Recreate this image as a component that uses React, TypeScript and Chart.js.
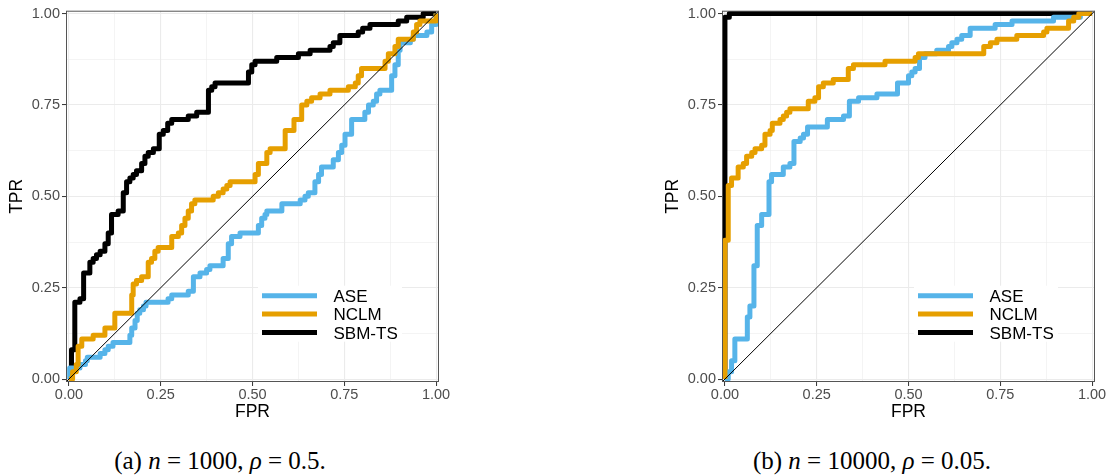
import React, { useEffect, useRef } from 'react';
import { Chart, registerables } from 'chart.js';

Chart.register(...registerables);

// ---------- data ----------
const TICK_VALUES = [0, 0.125, 0.25, 0.375, 0.5, 0.625, 0.75, 0.875, 1];
const TICK_LABELS = ['0.00', '0.25', '0.50', '0.75', '1.00'];
const SERIES = ['ASE', 'NCLM', 'SBM-TS'];
const COLORS = ['#56B4E9', '#E69F00', '#000000'];
const DIAG = [-0.02, 1.02];

// panel (a)
const A_ASE_FPR = [0, 0.002, 0.03, 0.045, 0.05, 0.085, 0.098, 0.107, 0.12, 0.166, 0.171, 0.18, 0.186, 0.193, 0.203, 0.21, 0.27, 0.28, 0.325, 0.339, 0.357, 0.375, 0.384, 0.42, 0.434, 0.443, 0.466, 0.516, 0.525, 0.534, 0.539, 0.58, 0.63, 0.643, 0.652, 0.67, 0.68, 0.688, 0.72, 0.734, 0.743, 0.752, 0.77, 0.806, 0.816, 0.829, 0.838, 0.847, 0.879, 0.888, 0.897, 0.902, 0.93, 0.938, 0.975, 0.988, 1.0, 1.0];
const A_ASE_TPR = [0, 0.03, 0.04, 0.05, 0.06, 0.07, 0.08, 0.09, 0.10, 0.12, 0.14, 0.16, 0.18, 0.19, 0.20, 0.21, 0.22, 0.23, 0.24, 0.28, 0.29, 0.30, 0.31, 0.33, 0.37, 0.39, 0.40, 0.42, 0.44, 0.45, 0.46, 0.48, 0.49, 0.50, 0.51, 0.54, 0.56, 0.58, 0.60, 0.62, 0.64, 0.67, 0.71, 0.73, 0.75, 0.76, 0.78, 0.79, 0.83, 0.86, 0.90, 0.92, 0.93, 0.94, 0.95, 0.97, 0.98, 1.0];

const A_NCLM_FPR = [0, 0.01, 0.02, 0.025, 0.035, 0.066, 0.098, 0.125, 0.171, 0.175, 0.184, 0.198, 0.216, 0.225, 0.234, 0.243, 0.28, 0.298, 0.307, 0.316, 0.325, 0.334, 0.343, 0.393, 0.407, 0.42, 0.43, 0.439, 0.507, 0.516, 0.539, 0.548, 0.589, 0.613, 0.634, 0.648, 0.661, 0.684, 0.711, 0.761, 0.78, 0.788, 0.797, 0.861, 0.87, 0.888, 0.897, 0.938, 0.947, 0.956, 1.0];
const A_NCLM_TPR = [0, 0.02, 0.04, 0.09, 0.11, 0.12, 0.14, 0.18, 0.23, 0.26, 0.27, 0.28, 0.32, 0.33, 0.35, 0.36, 0.39, 0.40, 0.42, 0.44, 0.46, 0.48, 0.49, 0.50, 0.51, 0.52, 0.53, 0.54, 0.56, 0.59, 0.62, 0.63, 0.68, 0.71, 0.75, 0.76, 0.77, 0.78, 0.79, 0.80, 0.81, 0.83, 0.85, 0.87, 0.89, 0.91, 0.93, 0.95, 0.97, 0.98, 1.0];

const A_SBM_FPR = [0, 0.007, 0.016, 0.03, 0.04, 0.057, 0.066, 0.075, 0.085, 0.098, 0.107, 0.116, 0.134, 0.148, 0.157, 0.166, 0.175, 0.184, 0.198, 0.207, 0.216, 0.23, 0.246, 0.257, 0.269, 0.28, 0.325, 0.348, 0.38, 0.389, 0.398, 0.489, 0.498, 0.507, 0.566, 0.625, 0.657, 0.711, 0.72, 0.738, 0.788, 0.80, 0.82, 0.897, 0.92, 0.965, 1.0];
const A_SBM_TPR = [0, 0.08, 0.21, 0.22, 0.29, 0.32, 0.33, 0.34, 0.35, 0.37, 0.40, 0.45, 0.46, 0.51, 0.54, 0.55, 0.56, 0.57, 0.59, 0.61, 0.62, 0.63, 0.67, 0.68, 0.70, 0.71, 0.72, 0.73, 0.79, 0.80, 0.81, 0.84, 0.86, 0.87, 0.88, 0.89, 0.90, 0.91, 0.92, 0.94, 0.95, 0.96, 0.97, 0.98, 0.99, 1.0, 1.0];

// panel (b)
const B_ASE_FPR = [0, 0.009, 0.018, 0.027, 0.061, 0.068, 0.079, 0.088, 0.10, 0.12, 0.127, 0.159, 0.177, 0.188, 0.205, 0.214, 0.225, 0.279, 0.323, 0.339, 0.364, 0.414, 0.47, 0.50, 0.509, 0.518, 0.53, 0.545, 0.577, 0.609, 0.618, 0.632, 0.645, 0.668, 0.736, 0.782, 0.895, 0.968, 1.0];
const B_ASE_TPR = [0, 0.02, 0.05, 0.11, 0.17, 0.20, 0.31, 0.42, 0.45, 0.54, 0.56, 0.58, 0.59, 0.65, 0.66, 0.67, 0.69, 0.71, 0.72, 0.76, 0.77, 0.78, 0.81, 0.83, 0.84, 0.85, 0.88, 0.89, 0.90, 0.91, 0.92, 0.93, 0.94, 0.96, 0.97, 0.98, 0.99, 1.0, 1.0];

const B_NCLM_FPR = [0, 0, 0.009, 0.018, 0.036, 0.05, 0.059, 0.073, 0.082, 0.10, 0.109, 0.123, 0.129, 0.15, 0.159, 0.168, 0.177, 0.227, 0.245, 0.255, 0.268, 0.295, 0.336, 0.35, 0.436, 0.518, 0.527, 0.705, 0.723, 0.741, 0.795, 0.868, 0.877, 0.936, 0.95, 0.964, 1.0];
const B_NCLM_TPR = [0, 0.38, 0.53, 0.55, 0.58, 0.59, 0.61, 0.62, 0.63, 0.64, 0.67, 0.68, 0.70, 0.71, 0.72, 0.73, 0.74, 0.76, 0.77, 0.80, 0.81, 0.82, 0.85, 0.86, 0.87, 0.88, 0.89, 0.91, 0.92, 0.93, 0.94, 0.95, 0.96, 0.98, 0.99, 1.0, 1.0];

const B_SBM_FPR = [0, 0, 0.012, 1.0];
const B_SBM_TPR = [0, 0.99, 1.0, 1.0];

const CAPTION_TAGS = ['(a)', '(b)'];
const CAPTION_N = ['1000', '10000'];
const CAPTION_RHO = ['0.5', '0.05'];

// ---------- helpers ----------
const FONT = '"Liberation Sans", Arial, sans-serif';
const toPts = (xs: number[], ys: number[]) => xs.map((x, i) => ({ x, y: ys[i] }));
const isMajor = (v: number) => Math.abs(v * 4 - Math.round(v * 4)) < 1e-6;

const panelPlugin = {
  id: 'panelDeco',
  afterDraw(chart: any) {
    const { ctx, chartArea } = chart;
    const { left, top, right, bottom } = chartArea;
    ctx.save();
    // legend box
    const lx = left + 192;
    const ly = top + 275;
    ctx.fillStyle = '#ffffff';
    ctx.fillRect(lx, ly, 144, 56);
    const rows = [285, 303.3, 321.7];
    SERIES.forEach((name, i) => {
      const y = top + rows[i];
      ctx.strokeStyle = COLORS[i];
      ctx.lineWidth = 5;
      ctx.lineCap = 'butt';
      ctx.beginPath();
      ctx.moveTo(left + 196, y);
      ctx.lineTo(left + 251, y);
      ctx.stroke();
      ctx.fillStyle = '#000000';
      ctx.font = `17px ${FONT}`;
      ctx.textBaseline = 'alphabetic';
      ctx.textAlign = 'left';
      ctx.fillText(name, left + 267.5, y + 6.1);
    });
    // panel border
    ctx.strokeStyle = '#555555';
    ctx.lineWidth = 1;
    ctx.strokeRect(left + 0.5, top + 0.5, right - left - 1, bottom - top - 1);
    ctx.restore();
  },
};

function makeAxis(isX: boolean) {
  return {
    type: 'linear',
    min: -0.008,
    max: 1.008,
    afterBuildTicks: (s: any) => {
      s.ticks = TICK_VALUES.map((v) => ({ value: v }));
    },
    afterFit: (s: any) => {
      if (isX) s.height = 43;
      else s.width = 66;
    },
    border: { display: false },
    grid: {
      color: '#EBEBEB',
      lineWidth: (c: any) => (c.tick && isMajor(c.tick.value) ? 1.1 : 0.55),
      tickColor: (c: any) => (c.tick && isMajor(c.tick.value) ? '#333333' : 'rgba(0,0,0,0)'),
      tickLength: 4,
      tickWidth: 1,
    },
    ticks: {
      autoSkip: false,
      maxRotation: 0,
      padding: isX ? 0 : 2,
      color: '#4D4D4D',
      font: { family: FONT, size: 14.5, lineHeight: 1.2 },
      callback: (v: number) => (isMajor(v) ? TICK_LABELS[Math.round(v * 4)] : ''),
    },
    title: {
      display: true,
      text: isX ? 'FPR' : 'TPR',
      color: '#000000',
      font: { family: FONT, size: 17.5, lineHeight: 1.2 },
      padding: isX ? { top: 0, bottom: 2.5 } : { top: 6.5, bottom: 0 },
    },
  };
}

function makeConfig(series: { x: number[]; y: number[] }[]) {
  const orders = [2, 1, 3];
  const datasets: any[] = series.map((s, i) => ({
    label: SERIES[i],
    data: toPts(s.x, s.y),
    borderColor: COLORS[i],
    borderWidth: 5,
    stepped: 'before',
    pointRadius: 0,
    borderJoinStyle: 'round',
    borderCapStyle: 'butt',
    order: orders[i],
  }));
  datasets.push({
    label: 'diag',
    data: toPts(DIAG, DIAG),
    borderColor: '#000000',
    borderWidth: 1,
    pointRadius: 0,
    order: 0,
  });
  return {
    type: 'line',
    data: { datasets },
    options: {
      animation: false,
      responsive: false,
      devicePixelRatio: 1,
      layout: { padding: { top: 9, right: 15, left: 0, bottom: 0 } },
      plugins: { legend: { display: false }, tooltip: { enabled: false } },
      scales: { x: makeAxis(true), y: makeAxis(false) },
    },
    plugins: [panelPlugin],
  };
}

export default function App() {
  const refA = useRef<HTMLCanvasElement>(null);
  const refB = useRef<HTMLCanvasElement>(null);

  useEffect(() => {
    const a = new Chart(
      refA.current as HTMLCanvasElement,
      makeConfig([
        { x: A_ASE_FPR, y: A_ASE_TPR },
        { x: A_NCLM_FPR, y: A_NCLM_TPR },
        { x: A_SBM_FPR, y: A_SBM_TPR },
      ]) as any
    );
    const b = new Chart(
      refB.current as HTMLCanvasElement,
      makeConfig([
        { x: B_ASE_FPR, y: B_ASE_TPR },
        { x: B_NCLM_FPR, y: B_NCLM_TPR },
        { x: B_SBM_FPR, y: B_SBM_TPR },
      ]) as any
    );
    return () => {
      a.destroy();
      b.destroy();
    };
  }, []);

  const captionStyle = (cx: number): React.CSSProperties => ({
    position: 'absolute',
    left: cx - 200,
    width: 400,
    top: 447,
    textAlign: 'center',
    fontFamily: '"Liberation Serif", "Times New Roman", serif',
    fontSize: 25,
    lineHeight: '28px',
    color: '#000',
    whiteSpace: 'nowrap',
  });

  return (
    <div
      style={{
        position: 'absolute',
        left: 0,
        top: 0,
        width: 1110,
        height: 475,
        background: '#ffffff',
        overflow: 'hidden',
      }}
    >
      <canvas
        ref={refA}
        width={454}
        height={425}
        style={{ position: 'absolute', left: 0, top: 0, display: 'block' }}
      />
      <canvas
        ref={refB}
        width={454}
        height={425}
        style={{ position: 'absolute', left: 656, top: 0, display: 'block' }}
      />
      {[220, 872].map((cx, i) => (
        <div key={i} style={captionStyle(cx)}>
          {CAPTION_TAGS[i]} <i>n</i> = {CAPTION_N[i]}, <i>ρ</i> = {CAPTION_RHO[i]}.
        </div>
      ))}
    </div>
  );
}
